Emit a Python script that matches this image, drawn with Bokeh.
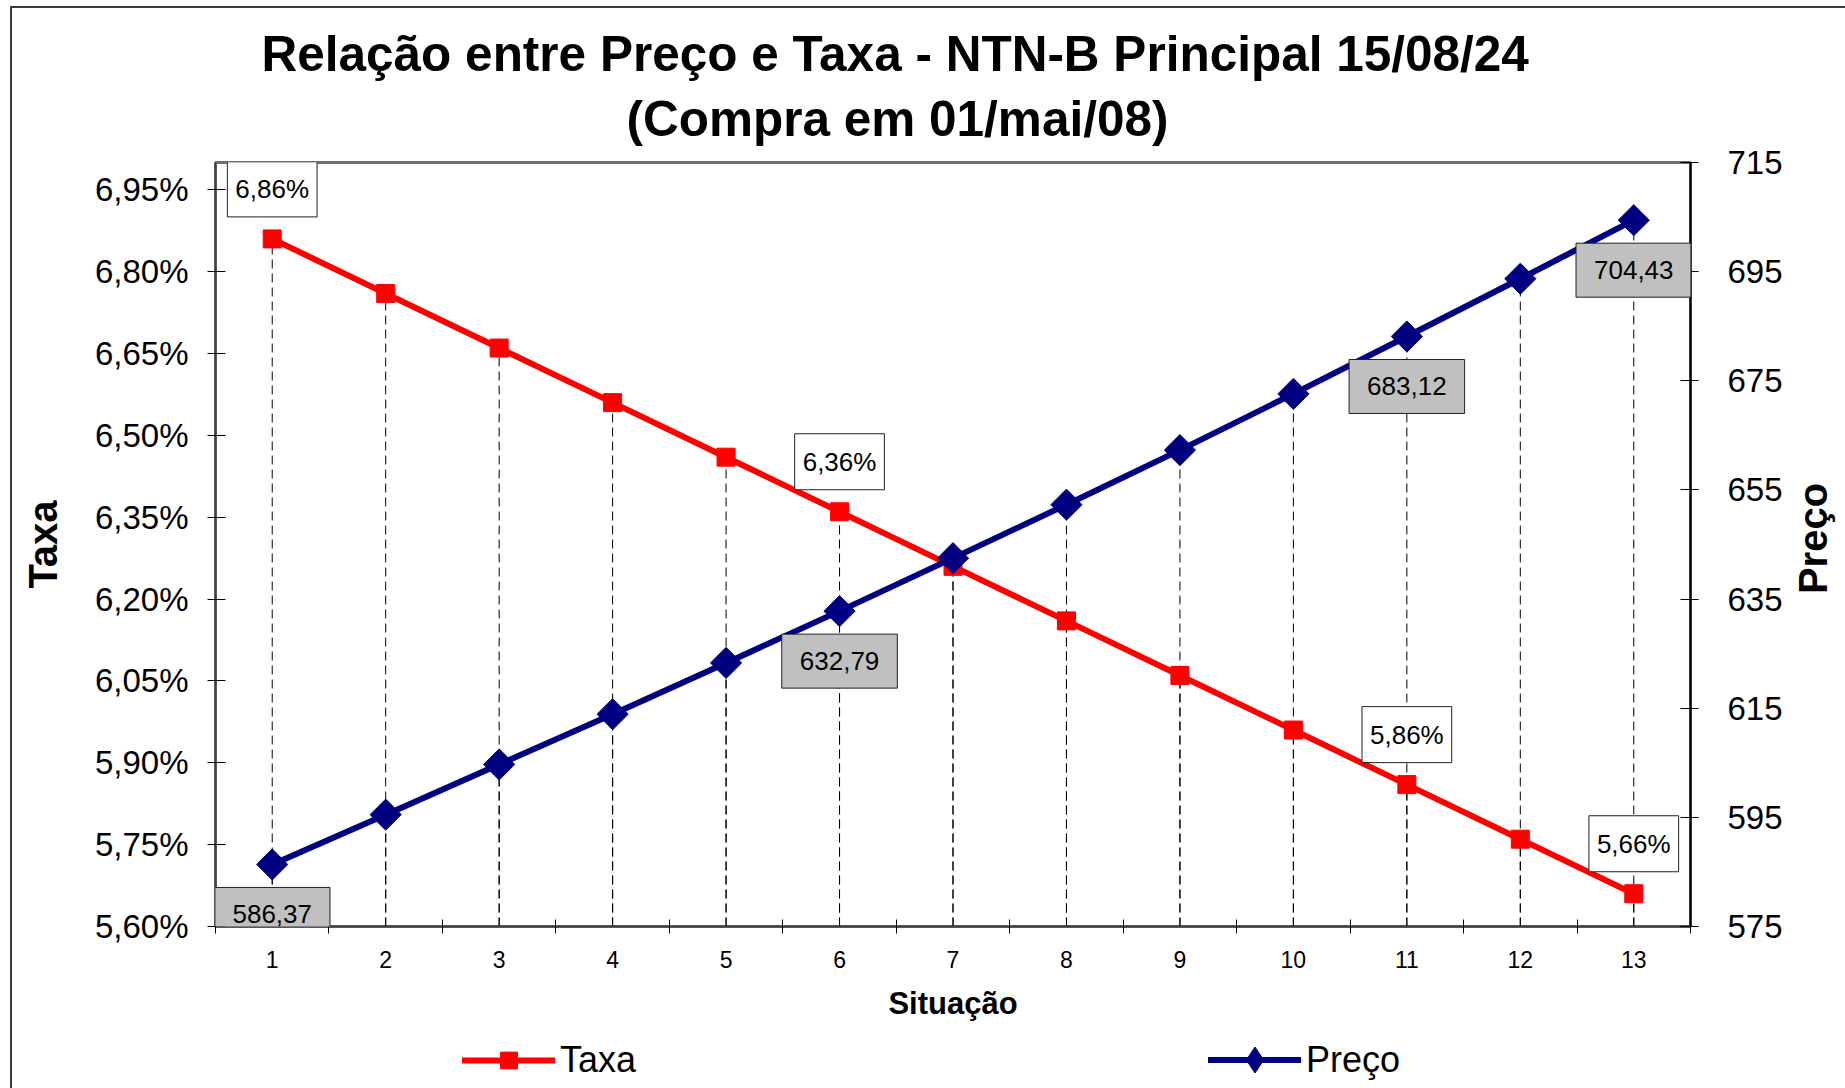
import numpy as np
from bokeh.plotting import figure
from bokeh.layouts import column, row
from bokeh.models import (Range1d, LinearAxis, FixedTicker, CustomJSTickFormatter,
                          ColumnDataSource, Label, Legend, LegendItem, Title)
from bokeh.embed import file_html
from bokeh.resources import INLINE

# ---------------- data ----------------
situacao = [1, 2, 3, 4, 5, 6, 7, 8, 9, 10, 11, 12, 13]
taxa = [6.86, 6.76, 6.66, 6.56, 6.46, 6.36, 6.26, 6.16, 6.06, 5.96, 5.86, 5.76, 5.66]
preco = [586.37, 595.5, 604.7, 613.9, 623.3, 632.79, 642.5, 652.3, 662.3, 672.6,
         683.12, 693.7, 704.43]
labelled_idx = [0, 5, 10, 12]

taxa_ticks = [5.60, 5.75, 5.90, 6.05, 6.20, 6.35, 6.50, 6.65, 6.80, 6.95]
taxa_tick_labels = ["5,60%", "5,75%", "5,90%", "6,05%", "6,20%", "6,35%",
                    "6,50%", "6,65%", "6,80%", "6,95%"]
taxa_limits = [5.60, 7.00]
preco_ticks = [575, 595, 615, 635, 655, 675, 695, 715]
preco_limits = [575, 715]

title_line1 = "Relação entre Preço e Taxa - NTN-B Principal 15/08/24"
title_line2 = "(Compra em 01/mai/08)"
x_title = "Situação"
y_title = "Taxa"
y2_title = "Preço"
series_names = ["Taxa", "Preço"]

FONT = "Liberation Sans"
RED = "#FF0000"
NAVY = "#000080"

# ---------------- main figure ----------------
W_MAIN, W_SIDE, H_MAIN, H_LEG = 1790, 55, 1030, 58
p = figure(width=W_MAIN, height=H_MAIN, output_backend="svg", toolbar_location=None,
           x_range=Range1d(situacao[0] - 0.5, situacao[-1] + 0.5),
           y_range=Range1d(*taxa_limits),
           min_border_left=215, min_border_right=100,
           min_border_top=162, min_border_bottom=104,
           background_fill_color="white", border_fill_alpha=0)
p.extra_y_ranges = {"preco": Range1d(*preco_limits)}
p.xgrid.visible = False
p.ygrid.visible = False
p.outline_line_color = "#707070"
p.outline_line_width = 3

# titles (first added sits closest to the frame)
p.add_layout(Title(text=title_line2, align="left", offset=411, vertical_align="top",
                   standoff=29, text_font=FONT, text_font_style="bold",
                   text_font_size="49.5px", text_color="black"), "above")
p.add_layout(Title(text=title_line1, align="left", offset=46, vertical_align="bottom",
                   standoff=-8, text_font=FONT, text_font_style="bold",
                   text_font_size="49.5px", text_color="black"), "above")

# x axis
boundaries = [situacao[0] - 0.5] + [c + 0.5 for c in situacao]
xa = p.xaxis[0]
xa.ticker = FixedTicker(ticks=situacao, minor_ticks=boundaries)
xa.major_tick_line_color = None
xa.major_tick_in = 0
xa.major_tick_out = 0
xa.minor_tick_line_color = "black"
xa.minor_tick_in = 7
xa.minor_tick_out = 7
xa.axis_line_color = "#404040"
xa.axis_line_width = 2
xa.major_label_text_font = FONT
xa.major_label_text_font_size = "23px"
xa.major_label_text_color = "black"
xa.major_label_standoff = 17
xa.axis_label = x_title
xa.axis_label_text_font = FONT
xa.axis_label_text_font_style = "bold"
xa.axis_label_text_font_size = "31px"
xa.axis_label_text_color = "black"
xa.axis_label_standoff = 15

# left y axis
ya = p.yaxis[0]
ya.ticker = FixedTicker(ticks=taxa_ticks, minor_ticks=[])
ya.formatter = CustomJSTickFormatter(
    args=dict(vals=taxa_ticks, labs=taxa_tick_labels),
    code="const i = vals.findIndex(v => Math.abs(v - tick) < 1e-6); return i >= 0 ? labs[i] : '';")
ya.major_tick_in = 10
ya.major_tick_out = 8
ya.major_tick_line_color = "black"
ya.axis_line_color = "#404040"
ya.axis_line_width = 2
ya.major_label_text_font = FONT
ya.major_label_text_font_size = "33px"
ya.major_label_text_color = "black"
ya.major_label_standoff = 19
ya.axis_label = y_title
ya.axis_label_text_font = FONT
ya.axis_label_text_font_style = "bold"
ya.axis_label_text_font_size = "40px"
ya.axis_label_text_color = "black"
ya.axis_label_standoff = 27

# right y axis (its title is drawn in the side strip)
ry = LinearAxis(y_range_name="preco", ticker=FixedTicker(ticks=preco_ticks, minor_ticks=[]))
ry.major_tick_in = 10
ry.major_tick_out = 8
ry.major_tick_line_color = "black"
ry.axis_line_color = "black"
ry.axis_line_width = 2
ry.major_label_text_font = FONT
ry.major_label_text_font_size = "33px"
ry.major_label_text_color = "black"
ry.major_label_standoff = 29
p.add_layout(ry, "right")

src = ColumnDataSource(dict(x=situacao, taxa=taxa, preco=preco,
                            taxa0=[taxa_limits[0]] * len(situacao),
                            preco0=[preco_limits[0]] * len(situacao)))

# drop lines (dashed, from axis up to points)
p.segment(x0="x", y0="taxa0", x1="x", y1="taxa", source=src,
          line_color="black", line_width=1, line_dash="9 5")
p.segment(x0="x", y0="preco0", x1="x", y1="preco", source=src, y_range_name="preco",
          line_color="black", line_width=1, line_dash="9 5")

# series
p.line("x", "taxa", source=src, line_color=RED, line_width=6,
       line_join="round", line_cap="round")
p.scatter("x", "taxa", source=src, marker="square", size=18,
          fill_color=RED, line_color=RED)
p.line("x", "preco", source=src, y_range_name="preco", line_color=NAVY,
       line_width=6, line_join="round", line_cap="round")
p.scatter("x", "preco", source=src, y_range_name="preco", marker="square",
          angle=np.pi / 4, size=22, fill_color=NAVY, line_color=NAVY)


def make_label(**kw):
    h, v = kw.pop("pad")
    try:
        return Label(padding=dict(left=h, right=h, top=v, bottom=v), **kw)
    except Exception:
        return Label(padding=(h, v), **kw)


# data labels
for i in labelled_idx:
    p.add_layout(make_label(x=situacao[i], y=taxa[i],
                            text=f"{taxa[i]:.2f}".replace(".", ",") + "%",
                            text_align="center", text_baseline="middle", y_offset=50,
                            text_font=FONT, text_font_size="26px", text_color="black",
                            background_fill_color="white", border_line_color="#202020",
                            border_line_width=1, pad=(8, 13)))
    p.add_layout(make_label(x=situacao[i], y=preco[i], y_range_name="preco",
                            text=f"{preco[i]:.2f}".replace(".", ","),
                            text_align="center", text_baseline="middle", y_offset=-50,
                            text_font=FONT, text_font_size="26px", text_color="black",
                            background_fill_color="#C0C0C0", border_line_color="#202020",
                            border_line_width=1, pad=(18, 18)))

# ---------------- right strip with the secondary axis title ----------------
s = figure(width=W_SIDE, height=H_MAIN, output_backend="svg", toolbar_location=None,
           x_axis_type=None, y_axis_type=None, min_border=0,
           x_range=Range1d(0, 1), y_range=Range1d(0, 1),
           outline_line_color=None, background_fill_alpha=0, border_fill_alpha=0)
s.xgrid.visible = False
s.ygrid.visible = False
s.add_layout(Label(x=22, x_units="screen", y=0.5, y_offset=6, text=y2_title,
                   angle=np.pi / 2, text_align="center", text_baseline="alphabetic",
                   text_font=FONT, text_font_style="bold", text_font_size="40px",
                   text_color="black"))

# ---------------- legend strip ----------------
# the series are drawn here too, but the strip's ranges keep them out of view;
# they only serve as the legend's glyph sources
q = figure(width=W_MAIN + W_SIDE, height=H_LEG, output_backend="svg",
           toolbar_location=None, x_axis_type=None, y_axis_type=None, min_border=0,
           x_range=Range1d(0, 1), y_range=Range1d(0, 1),
           outline_line_color=None, background_fill_alpha=0, border_fill_alpha=0)
q.xgrid.visible = False
q.ygrid.visible = False
l_tl = q.line("x", "taxa", source=src, line_color=RED, line_width=6, line_cap="round")
l_tm = q.scatter("x", "taxa", source=src, marker="square", size=18,
                 fill_color=RED, line_color=RED)
l_pl = q.line("x", "preco", source=src, line_color=NAVY, line_width=6, line_cap="round")
l_pm = q.scatter("x", "preco", source=src, marker="diamond", size=26,
                 fill_color=NAVY, line_color=NAVY)

common = dict(orientation="horizontal", padding=0, margin=0, spacing=0,
              glyph_width=93, label_standoff=5, label_text_font=FONT,
              label_text_font_size="36px", label_text_color="black",
              border_line_color=None, background_fill_alpha=0)
q.add_layout(Legend(items=[LegendItem(label=series_names[0], renderers=[l_tl, l_tm])],
                    location=(462, 7), glyph_height=42, label_height=42, **common),
             "center")
q.add_layout(Legend(items=[LegendItem(label=series_names[1], renderers=[l_pl, l_pm])],
                    location=(1208, -4), glyph_height=65, label_height=65, **common),
             "center")

page = column(row(p, s, spacing=0), q, spacing=0)
page.styles = {
    "background-color": "white",
    "background-image": "linear-gradient(#3a3a3a, #3a3a3a), linear-gradient(#3a3a3a, #3a3a3a)",
    "background-size": "calc(100% - 10px) 2px, 2px calc(100% - 6px)",
    "background-position": "10px 6px, 10px 6px",
    "background-repeat": "no-repeat",
}

open("out.html", "w").write(file_html(page, INLINE))
